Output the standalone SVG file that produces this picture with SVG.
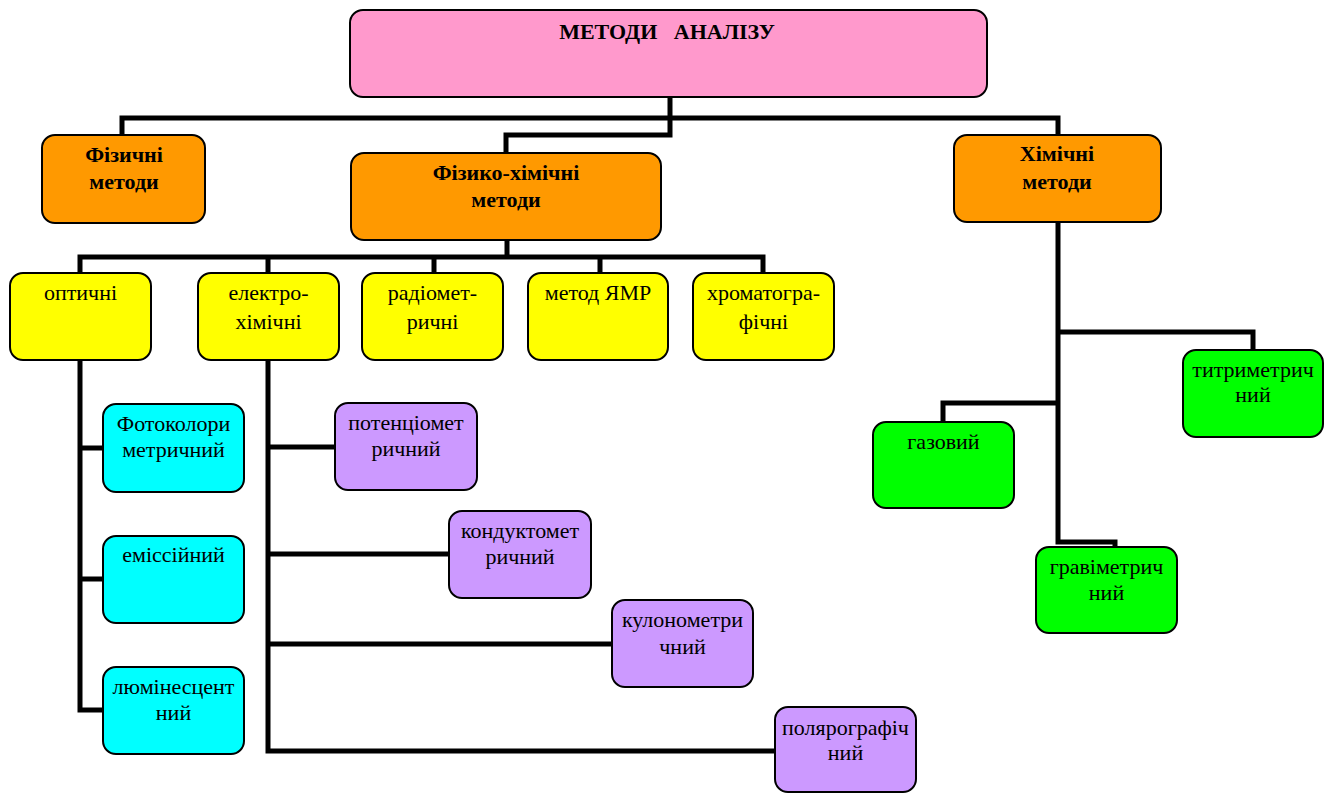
<svg xmlns="http://www.w3.org/2000/svg" width="1331" height="794" viewBox="0 0 1331 794">
<style>
.b{stroke:#000;stroke-width:2}
.pink{fill:#FF99CC}.or{fill:#FF9900}.ye{fill:#FFFF00}.cy{fill:#00FFFF}.pu{fill:#CC99FF}.gr{fill:#00FF00}
text{font-family:'Liberation Serif','Times New Roman','DejaVu Serif',serif;font-size:22px;fill:#000;text-anchor:middle}
.h{font-weight:bold;font-size:22px}
.c path{fill:none;stroke:#000;stroke-width:5}
</style>
<rect width="1331" height="794" fill="#fff"/>
<g class="c" id="connectors">
<path d="M122 135V118H1058V135"/>
<path d="M670 97V118"/>
<path d="M670 118V135H506V153"/>
<path d="M507 240V257"/>
<path d="M80 273V257H763V273"/>
<path d="M268 257V273M434 257V273M600 257V273"/>
<path d="M80 360V710H103M80 448H103M80 579H103"/>
<path d="M268 360V751H775M268 447H335M268 554H449M268 644H612"/>
<path d="M1058 222V542H1115V547M1058 332H1253V350M1058 403H943V422"/>
</g>
<g font-family="Liberation Serif, serif">
<g id="root"><rect class="b pink" x="350" y="10" width="637" height="87" rx="13"/><text class="h" x="667" y="39" xml:space="preserve">МЕТОДИ   АНАЛІЗУ</text></g>
<g id="fiz"><rect class="b or" x="42" y="135" width="163" height="88" rx="13"/><text class="h" x="124" y="162">Фізичні</text><text class="h" x="124" y="189">методи</text></g>
<g id="fizhim"><rect class="b or" x="351" y="153" width="310" height="87" rx="13"/><text class="h" x="506" y="180">Фізико-хімічні</text><text class="h" x="506" y="207">методи</text></g>
<g id="him"><rect class="b or" x="954" y="135" width="207" height="87" rx="13"/><text class="h" x="1057" y="161">Хімічні</text><text class="h" x="1057" y="189">методи</text></g>
<g id="opt"><rect class="b ye" x="10" y="273" width="141" height="87" rx="13"/><text x="80.5" y="300">оптичні</text></g>
<g id="el"><rect class="b ye" x="198" y="273" width="141" height="87" rx="13"/><text x="268.5" y="300">електро-</text><text x="268.5" y="329">хімічні</text></g>
<g id="rad"><rect class="b ye" x="362" y="273" width="141" height="87" rx="13"/><text x="432.5" y="300">радіомет-</text><text x="432.5" y="329">ричні</text></g>
<g id="nmr"><rect class="b ye" x="528" y="273" width="140" height="87" rx="13"/><text x="598" y="300">метод ЯМР</text></g>
<g id="chrom"><rect class="b ye" x="693" y="273" width="141" height="87" rx="13"/><text x="763.5" y="300">хроматогра-</text><text x="763.5" y="329">фічні</text></g>
<g id="foto"><rect class="b cy" x="103" y="404" width="141" height="88" rx="13"/><text x="173.5" y="431">Фотоколори</text><text x="173.5" y="457">метричний</text></g>
<g id="emis"><rect class="b cy" x="103" y="536" width="141" height="87" rx="13"/><text x="173.5" y="562">еміссійний</text></g>
<g id="lum"><rect class="b cy" x="103" y="667" width="141" height="87" rx="13"/><text x="173.5" y="694">люмінесцент</text><text x="173.5" y="720">ний</text></g>
<g id="pot"><rect class="b pu" x="335" y="403" width="142" height="87" rx="13"/><text x="406" y="430">потенціомет</text><text x="406" y="456">ричний</text></g>
<g id="kond"><rect class="b pu" x="449" y="511" width="142" height="87" rx="13"/><text x="520" y="538">кондуктомет</text><text x="520" y="564">ричний</text></g>
<g id="kul"><rect class="b pu" x="612" y="600" width="141" height="87" rx="13"/><text x="682.5" y="627">кулонометри</text><text x="682.5" y="654">чний</text></g>
<g id="pol"><rect class="b pu" x="775" y="707" width="141" height="85" rx="13"/><text x="845.5" y="735">полярографіч</text><text x="845.5" y="760">ний</text></g>
<g id="titr"><rect class="b gr" x="1183" y="350" width="140" height="87" rx="13"/><text x="1253" y="377">титриметрич</text><text x="1253" y="402">ний</text></g>
<g id="gas"><rect class="b gr" x="873" y="422" width="141" height="86" rx="13"/><text x="943.5" y="449">газовий</text></g>
<g id="grav"><rect class="b gr" x="1036" y="547" width="141" height="86" rx="13"/><text x="1106.5" y="574">гравіметрич</text><text x="1106.5" y="600">ний</text></g>
</g>
</svg>
